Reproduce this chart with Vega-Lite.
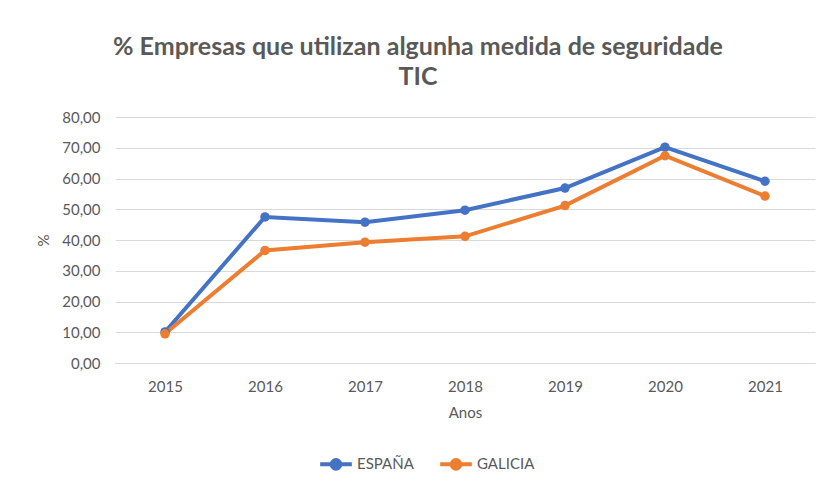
{
  "$schema": "https://vega.github.io/schema/vega-lite/v6.json",
  "autosize": "none",
  "width": 700,
  "height": 246,
  "padding": {"left": 115, "top": 117, "right": 3, "bottom": 122},
  "background": "white",
  "title": {
    "text": ["% Empresas que utilizan algunha medida de seguridade", "TIC"],
    "font": "Lato",
    "fontSize": 25,
    "fontWeight": "bold",
    "color": "#595959",
    "anchor": "middle",
    "dx": -47,
    "offset": 20,
    "lineHeight": 30
  },
  "data": {
    "values": [
      {"ano": "2015", "serie": "ESPAÑA", "valor": 10.1},
      {"ano": "2016", "serie": "ESPAÑA", "valor": 47.5},
      {"ano": "2017", "serie": "ESPAÑA", "valor": 45.8},
      {"ano": "2018", "serie": "ESPAÑA", "valor": 49.7},
      {"ano": "2019", "serie": "ESPAÑA", "valor": 56.9},
      {"ano": "2020", "serie": "ESPAÑA", "valor": 70.2},
      {"ano": "2021", "serie": "ESPAÑA", "valor": 59.1},
      {"ano": "2015", "serie": "GALICIA", "valor": 9.5},
      {"ano": "2016", "serie": "GALICIA", "valor": 36.6},
      {"ano": "2017", "serie": "GALICIA", "valor": 39.3},
      {"ano": "2018", "serie": "GALICIA", "valor": 41.2},
      {"ano": "2019", "serie": "GALICIA", "valor": 51.2},
      {"ano": "2020", "serie": "GALICIA", "valor": 67.4},
      {"ano": "2021", "serie": "GALICIA", "valor": 54.3}
    ]
  },
  "mark": {"type": "line", "strokeWidth": 4, "point": {"size": 90, "filled": true, "opacity": 1}},
  "encoding": {
    "x": {
      "field": "ano",
      "type": "ordinal",
      "scale": {"paddingInner": 0, "paddingOuter": 0.5},
      "axis": {
        "title": "Anos",
        "labelAngle": 0,
        "labelFont": "Lato",
        "labelFontSize": 15,
        "labelColor": "#595959",
        "labelPadding": 16,
        "titleFont": "Lato",
        "titleFontSize": 15,
        "titleFontWeight": "normal",
        "titleColor": "#595959",
        "titlePadding": 11,
        "ticks": false,
        "domainColor": "#d9d9d9",
        "domainWidth": 1,
        "grid": false
      }
    },
    "y": {
      "field": "valor",
      "type": "quantitative",
      "scale": {"domain": [0, 80], "nice": false},
      "axis": {
        "title": "%",
        "values": [0, 10, 20, 30, 40, 50, 60, 70, 80],
        "labelExpr": "replace(format(datum.value, '.2f'), '.', ',')",
        "labelFont": "Lato",
        "labelFontSize": 15,
        "labelColor": "#595959",
        "labelPadding": 15,
        "titleFont": "Lato",
        "titleFontSize": 15,
        "titleFontWeight": "normal",
        "titleColor": "#595959",
        "titlePadding": 10,
        "ticks": false,
        "domain": false,
        "gridColor": "#d9d9d9",
        "gridWidth": 1
      }
    },
    "color": {
      "field": "serie",
      "type": "nominal",
      "scale": {"domain": ["ESPAÑA", "GALICIA"], "range": ["#4472C4", "#ED7D31"]},
      "legend": {
        "title": null,
        "orient": "none",
        "direction": "horizontal",
        "legendX": 203,
        "legendY": 329,
        "labelFont": "Lato",
        "labelFontSize": 15,
        "labelColor": "#595959",
        "labelOffset": 3,
        "columnPadding": 18,
        "symbolType": "M-1,0L1,0M0.27,0A0.27,0.27,0,1,1,-0.27,0A0.27,0.27,0,1,1,0.27,0Z",
        "symbolSize": 1000,
        "symbolStrokeWidth": 4,
        "encode": {
          "symbols": {
            "update": {
              "fill": {"scale": "color", "field": "value"},
              "stroke": {"scale": "color", "field": "value"},
              "opacity": {"value": 1}
            }
          }
        }
      }
    }
  },
  "config": {"view": {"stroke": null}}
}
